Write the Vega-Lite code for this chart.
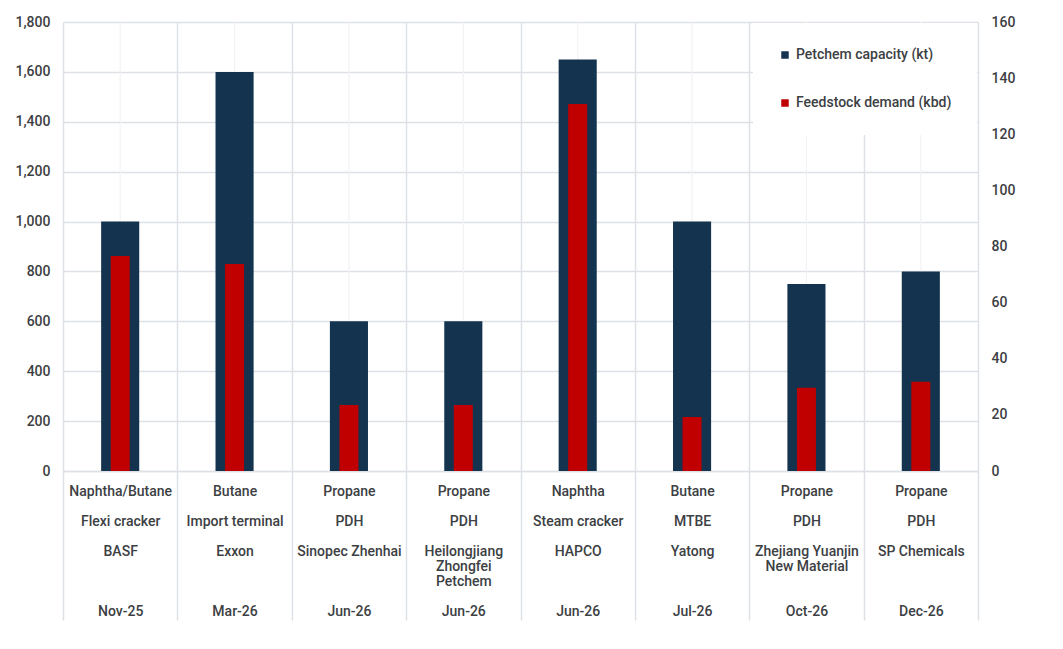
{
  "$schema": "https://vega.github.io/schema/vega-lite/v6.json",
  "width": 915,
  "height": 449,
  "autosize": {"type": "none"},
  "padding": {"left": 63, "top": 22, "right": 85, "bottom": 178},
  "background": "white",
  "data": {
    "values": [
      {"feedstock": "Naphtha/Butane", "type": "Flexi cracker", "company": "BASF", "date": "Nov-25", "capacity": 1000, "demand": 76.6},
      {"feedstock": "Butane", "type": "Import terminal", "company": "Exxon", "date": "Mar-26", "capacity": 1600, "demand": 73.8},
      {"feedstock": "Propane", "type": "PDH", "company": "Sinopec Zhenhai", "date": "Jun-26", "capacity": 600, "demand": 23.5},
      {"feedstock": "Propane", "type": "PDH", "company": "Heilongjiang~Zhongfei~Petchem", "date": "Jun-26", "capacity": 600, "demand": 23.5},
      {"feedstock": "Naphtha", "type": "Steam cracker", "company": "HAPCO", "date": "Jun-26", "capacity": 1650, "demand": 130.8},
      {"feedstock": "Butane", "type": "MTBE", "company": "Yatong", "date": "Jul-26", "capacity": 1000, "demand": 19.2},
      {"feedstock": "Propane", "type": "PDH", "company": "Zhejiang Yuanjin~New Material", "date": "Oct-26", "capacity": 750, "demand": 29.7},
      {"feedstock": "Propane", "type": "PDH", "company": "SP Chemicals", "date": "Dec-26", "capacity": 800, "demand": 31.8}
    ]
  },
  "transform": [
    {"calculate": "datum.feedstock + '|' + datum.type + '|' + datum.company + '|' + datum.date", "as": "label"}
  ],
  "encoding": {
    "x": {
      "field": "label",
      "type": "nominal",
      "sort": null,
      "scale": {"paddingInner": 0, "paddingOuter": 0},
      "axis": {
        "title": null,
        "labelAngle": 0,
        "labelOverlap": false,
        "labelLimit": 200,
        "labelFont": "Roboto",
        "labelFontSize": 14,
        "labelFontWeight": 500,
        "labelColor": "#3c4043",
        "labelLineHeight": 15,
        "labelPadding": -136,
        "labelBaseline": "top",
        "labelExpr": "isString(datum.value) && indexof(datum.value,'|') >= 0 ? [split(datum.value,'|')[0], '\u200b', split(datum.value,'|')[1], '\u200b', split(split(datum.value,'|')[2],'~')[0], length(split(split(datum.value,'|')[2],'~')) > 1 ? split(split(datum.value,'|')[2],'~')[1] : '\u200b', length(split(split(datum.value,'|')[2],'~')) > 2 ? split(split(datum.value,'|')[2],'~')[2] : '\u200b', '\u200b', split(datum.value,'|')[3]] : ''",
        "tickBand": "extent",
        "ticks": true,
        "tickSize": 149,
        "tickColor": "#dde1e5",
        "tickWidth": 1.5,
        "grid": true,
        "gridColor": "#dde1e5",
        "gridWidth": 1.5,
        "domain": true,
        "domainColor": "#dde1e5",
        "domainWidth": 1.5
      }
    }
  },
  "layer": [
    {
      "mark": {"type": "rule", "color": "#f1f2f4", "strokeWidth": 1.2},
      "encoding": {}
    },
    {
      "mark": {"type": "bar", "width": {"band": 0.333}},
      "encoding": {
        "y": {
          "field": "capacity",
          "type": "quantitative",
          "scale": {"domain": [0, 1800], "nice": false},
          "axis": {
            "title": null,
            "orient": "left",
            "values": [0, 200, 400, 600, 800, 1000, 1200, 1400, 1600, 1800],
            "format": ",.0f",
            "ticks": false,
            "domain": false,
            "grid": true,
            "gridColor": "#dde1e5",
            "gridWidth": 1.3,
            "labelFont": "Roboto",
            "labelFontSize": 14,
            "labelFontWeight": 500,
            "labelColor": "#3c4043",
            "labelPadding": 13
          }
        },
        "color": {
          "datum": "Petchem capacity (kt)",
          "type": "nominal",
          "scale": {"domain": ["Petchem capacity (kt)", "Feedstock demand (kbd)"], "range": ["#13334f", "#c00000"]},
          "legend": {
            "title": null,
            "orient": "top-right",
            "offset": 1,
            "fillColor": "white",
            "padding": 25,
            "rowPadding": 34,
            "symbolType": "square",
            "symbolSize": 56,
            "symbolStrokeWidth": 0,
            "labelFont": "Roboto",
            "labelFontSize": 14,
            "labelFontWeight": 500,
            "labelColor": "#3c4043",
            "labelLimit": 300
          }
        }
      }
    },
    {
      "mark": {"type": "bar", "width": {"band": 0.166}},
      "encoding": {
        "y": {
          "field": "demand",
          "type": "quantitative",
          "scale": {"domain": [0, 160], "nice": false},
          "axis": {
            "title": null,
            "orient": "right",
            "values": [0, 20, 40, 60, 80, 100, 120, 140, 160],
            "format": "d",
            "ticks": false,
            "domain": false,
            "grid": false,
            "labelFont": "Roboto",
            "labelFontSize": 14,
            "labelFontWeight": 500,
            "labelColor": "#3c4043",
            "labelPadding": 13
          }
        },
        "color": {"datum": "Feedstock demand (kbd)", "type": "nominal"}
      }
    }
  ],
  "resolve": {"scale": {"y": "independent"}},
  "config": {"view": {"stroke": null}}
}
